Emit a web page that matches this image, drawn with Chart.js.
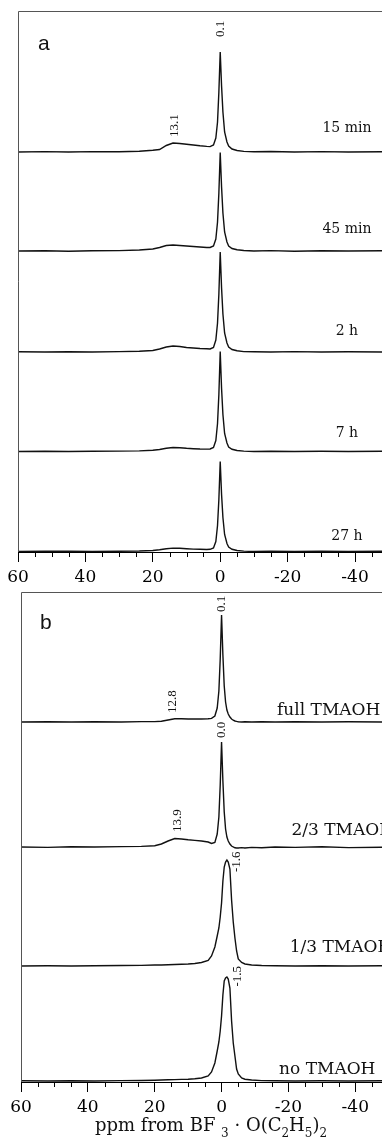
<!DOCTYPE html>
<html>
<head>
<meta charset="utf-8">
<script src="https://cdn.jsdelivr.net/npm/chart.js@4.4.0/dist/chart.umd.min.js"></script>
<style>
  html, body { margin: 0; padding: 0; background: #fff; }
  body { width: 382px; height: 1144px; position: relative; overflow: hidden; }
  canvas { position: absolute; left: 0; }
  #panelA { top: 0; }
  #panelB { top: 586px; }
</style>
</head>
<body>
<canvas id="panelA" width="382" height="586"></canvas>
<canvas id="panelB" width="382" height="558"></canvas>
<script>
// ---- panel a: spectra vs. reaction time (ppm grid shared by all five traces)
const ppmA = [60, 52, 45, 38, 30, 24, 20, 18, 16, 14, 12, 10, 8, 6, 4, 3, 2, 1.3, 0.8, 0.4,
  0, -0.4, -0.8, -1.3, -2, -2.5, -3.5, -5, -7, -10, -15, -22, -30, -38, -48];
const min15 = [0, 0.004, 0, 0.004, 0.002, 0.008, 0.018, 0.025, 0.065, 0.09, 0.085, 0.077, 0.07, 0.062, 0.056,
  0.054, 0.07, 0.14, 0.3, 0.6, 1.0, 0.66, 0.4, 0.2, 0.1, 0.06, 0.03, 0.015, 0.006, 0.002,
  0.005, 0, 0.004, 0, 0.003];
const min45 = [0, 0.003, -0.002, 0.003, 0.004, 0.01, 0.02, 0.035, 0.055, 0.06, 0.055, 0.05, 0.045, 0.04, 0.035,
  0.035, 0.05, 0.12, 0.29, 0.58, 0.985, 0.64, 0.38, 0.19, 0.09, 0.05, 0.025, 0.012, 0.005, 0,
  0.004, -0.002, 0.003, 0, 0.002];
const h2 = [0.002, 0, 0.003, 0, 0.004, 0.008, 0.015, 0.03, 0.05, 0.06, 0.055, 0.045, 0.04, 0.035, 0.032,
  0.03, 0.045, 0.12, 0.29, 0.58, 1.0, 0.64, 0.38, 0.19, 0.09, 0.05, 0.025, 0.012, 0.004, 0.002,
  0, 0.004, 0, 0.003, 0];
const h7 = [0, 0.003, 0, 0.002, 0.004, 0.006, 0.012, 0.02, 0.032, 0.04, 0.038, 0.032, 0.028, 0.025, 0.024,
  0.025, 0.04, 0.11, 0.28, 0.57, 1.0, 0.63, 0.37, 0.18, 0.085, 0.045, 0.022, 0.01, 0.004, 0,
  0.003, 0, 0.002, 0, 0.002];
const h27 = [0, 0.002, 0.003, 0, 0.003, 0.005, 0.01, 0.018, 0.028, 0.034, 0.033, 0.028, 0.024, 0.022, 0.02,
  0.022, 0.035, 0.1, 0.26, 0.52, 0.9, 0.57, 0.34, 0.17, 0.08, 0.045, 0.022, 0.01, 0.004, 0,
  0.003, 0, 0.002, 0, 0.002];
const namesA = ['15 min', '45 min', '2 h', '7 h', '27 h'];

// ---- panel b: spectra vs. TMAOH content
const ppmB = [60, 52, 45, 38, 30, 24, 20, 18, 16, 14, 12, 10, 8, 6, 4, 3, 2, 1.3, 0.8, 0.4,
  0, -0.4, -0.8, -1.2, -1.6, -2, -2.5, -3, -3.5, -4, -4.5, -5, -6, -7, -9, -12, -16, -22, -30, -38, -48];
const fullTMAOH = [0, 0.003, 0, 0.003, 0, 0.004, 0.004, 0.008, 0.02, 0.032, 0.032, 0.03, 0.03, 0.03, 0.032,
  0.036, 0.06, 0.14, 0.31, 0.63, 1.07, 0.67, 0.36, 0.2, 0.12, 0.08, 0.05, 0.03, 0.018, 0.01,
  0.006, 0.003, 0, 0.003, 0, 0.002, 0, 0.003, 0, 0.002, 0];
const twoThirdsTMAOH = [0, -0.004, 0.003, 0, 0.004, 0.006, 0.012, 0.03, 0.06, 0.085, 0.08, 0.072, 0.066, 0.06, 0.05,
  0.035, 0.045, 0.13, 0.3, 0.62, 1.05, 0.66, 0.35, 0.18, 0.1, 0.06, 0.03, 0.01, 0, -0.008,
  -0.01, -0.01, -0.006, -0.01, -0.004, -0.008, 0, -0.004, 0.002, -0.006, -0.003];
const oneThirdTMAOH = [0, 0.002, 0, 0.003, 0.005, 0.006, 0.01, 0.01, 0.012, 0.015, 0.018, 0.02, 0.025, 0.035, 0.055,
  0.1, 0.19, 0.3, 0.38, 0.49, 0.63, 0.85, 0.99, 1.04, 1.06, 1.04, 0.97, 0.66, 0.44, 0.28,
  0.15, 0.07, 0.035, 0.02, 0.01, 0.005, 0.002, 0, 0.003, 0, 0.002];
const noTMAOH = [0.002, 0, 0.003, 0, 0.004, 0.005, 0.008, 0.01, 0.012, 0.014, 0.016, 0.018, 0.022, 0.03, 0.05,
  0.09, 0.18, 0.3, 0.39, 0.5, 0.65, 0.86, 1.0, 1.03, 1.04, 1.02, 0.93, 0.6, 0.38, 0.25,
  0.12, 0.07, 0.03, 0.018, 0.01, 0.004, 0.002, 0, 0.002, 0, 0.002];
const namesB = ['full TMAOH', '2/3 TMAOH', '1/3 TMAOH', 'no TMAOH'];

const xTicks = [60, 40, 20, 0, -20, -40];

// peak annotations: [text, ppm, row, height above that row's baseline]
const notesA = [['0.1', 0, 0, 1.15], ['13.1', 13.6, 0, 0.15]];
const notesB = [['0.1', 0, 0, 1.1], ['12.8', 14.6, 0, 0.09], ['0.0', 0, 1, 1.09],
  ['13.9', 13.1, 1, 0.15], ['-1.6', -4.6, 2, 0.94], ['-1.5', -4.9, 3, 0.945]];

// ---- layout (stacking offsets, label placement)
const panelA = {
  ppm: ppmA, rows: [min15, min45, h2, h7, h27], names: namesA, notes: notesA,
  offsets: [4, 3.01, 2, 1.005, 0.005], ymax: 5.41, top: 11, left: 18, axisH: 34,
  letter: 'a', letterPos: [38, 50], nameFont: 14, nameAlign: 'center',
  nameX: [-37.6, -37.6, -37.6, -37.6, -37.6], nameDy: [0.2, 0.18, 0.17, 0.15, 0.12]
};
const panelB = {
  ppm: ppmB, rows: [fullTMAOH, twoThirdsTMAOH, oneThirdTMAOH, noTMAOH], names: namesB, notes: notesB,
  offsets: [3.6, 2.35, 1.16, 0.01], ymax: 4.9, top: 6, left: 21, axisH: 62,
  letter: 'b', letterPos: [40, 43], nameFont: 17, nameAlign: 'left',
  nameX: [-16.6, -20.9, -20.4, -17.2], nameDy: [0.07, 0.12, 0.14, 0.07],
  title: [['ppm from BF', false], [' ', false], ['3', true], [' \u00b7 O(C', false], ['2', true],
    ['H', false], ['5', true], [')', false], ['2', true]],
  titleY: 545, titleCx: 211
};

function makeDecor(p) {
  return {
    id: 'decor',
    afterDraw(chart) {
      const { ctx, chartArea: area, scales: { x, y } } = chart;
      ctx.save();
      // frame: only left and top edges, the right side is cut off
      ctx.strokeStyle = '#555';
      ctx.lineWidth = 1;
      ctx.beginPath();
      ctx.moveTo(area.left + 0.5, area.bottom);
      ctx.lineTo(area.left + 0.5, area.top + 0.5);
      ctx.lineTo(area.right, area.top + 0.5);
      ctx.stroke();

      // minor ticks every 5 ppm
      ctx.strokeStyle = '#000';
      ctx.beginPath();
      for (let v = 55; v >= -45; v -= 5) {
        if (v % 20 === 0) continue;
        const px = Math.round(x.getPixelForValue(v)) + 0.5;
        ctx.moveTo(px, area.bottom);
        ctx.lineTo(px, area.bottom + 5);
      }
      ctx.stroke();

      ctx.fillStyle = '#111';
      // trace names
      ctx.font = p.nameFont + 'px "DejaVu Serif"';
      ctx.textAlign = p.nameAlign;
      ctx.textBaseline = 'alphabetic';
      p.names.forEach((name, r) => {
        ctx.fillText(name, x.getPixelForValue(p.nameX[r]), y.getPixelForValue(p.offsets[r] + p.nameDy[r]));
      });

      // rotated peak positions
      ctx.font = '13px "Liberation Serif"';
      ctx.textAlign = 'left';
      ctx.textBaseline = 'middle';
      p.notes.forEach(([text, ppm, row, h]) => {
        ctx.save();
        ctx.translate(x.getPixelForValue(ppm), y.getPixelForValue(p.offsets[row] + h));
        ctx.rotate(-Math.PI / 2);
        ctx.fillText(text, 0, 0);
        ctx.restore();
      });

      // panel letter
      ctx.font = '21px "Liberation Sans"';
      ctx.textBaseline = 'alphabetic';
      ctx.fillText(p.letter, p.letterPos[0], p.letterPos[1]);

      // axis title with subscripts
      if (p.title) {
        const main = '18px "DejaVu Serif"', sub = '12px "DejaVu Serif"';
        let total = 0;
        p.title.forEach(([t, isSub]) => { ctx.font = isSub ? sub : main; total += ctx.measureText(t).width; });
        let cx = p.titleCx - total / 2;
        p.title.forEach(([t, isSub]) => {
          ctx.font = isSub ? sub : main;
          ctx.fillText(t, cx, p.titleY + (isSub ? 6 : 0));
          cx += ctx.measureText(t).width;
        });
      }
      ctx.restore();
    }
  };
}

function buildChart(el, p) {
  const datasets = p.rows.map((vals, r) => ({
    data: p.ppm.map((v, i) => ({ x: v, y: p.offsets[r] + vals[i] })),
    borderColor: '#111',
    borderWidth: 1.4,
    pointRadius: 0,
    fill: false,
    tension: 0
  }));
  return new Chart(el.getContext('2d'), {
    type: 'line',
    data: { datasets },
    options: {
      responsive: false,
      animation: false,
      devicePixelRatio: 1,
      layout: { padding: { top: p.top, left: p.left, right: 0, bottom: 0 } },
      plugins: { legend: { display: false }, tooltip: { enabled: false } },
      scales: {
        x: {
          type: 'linear',
          reverse: true,
          min: -48,
          max: 60,
          afterBuildTicks: (s) => { s.ticks = xTicks.map((v) => ({ value: v })); },
          afterFit: (s) => { s.height = p.axisH; },
          ticks: {
            autoSkip: false,
            maxRotation: 0,
            padding: 5,
            color: '#000',
            font: { family: 'DejaVu Serif', size: 17 },
            callback: (v) => String(v)
          },
          grid: { drawOnChartArea: false, tickLength: 10, color: '#000' },
          border: { display: true, color: '#000', width: 1 }
        },
        y: { display: false, min: 0, max: p.ymax }
      }
    },
    plugins: [makeDecor(p)]
  });
}

buildChart(document.getElementById('panelA'), panelA);
buildChart(document.getElementById('panelB'), panelB);
</script>
</body>
</html>
